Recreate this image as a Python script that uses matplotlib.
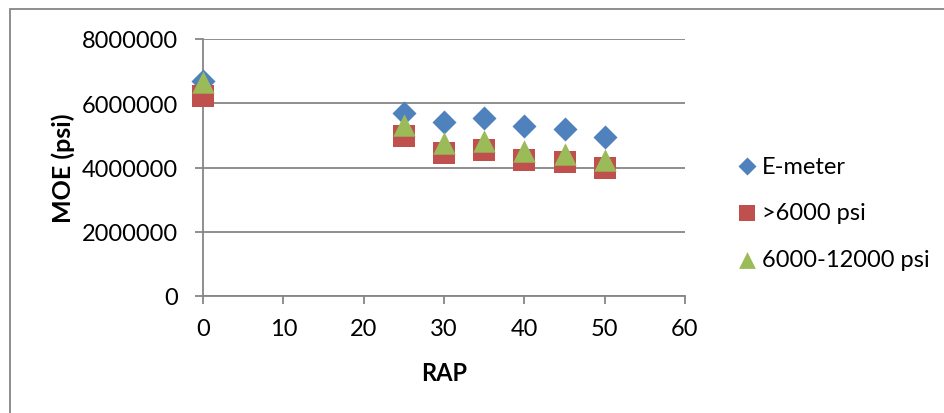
import matplotlib
matplotlib.use("Agg")
import matplotlib.pyplot as plt
from matplotlib.patches import Rectangle

plt.rcParams['font.family'] = ['Lato', 'DejaVu Sans']

rap = [0, 25, 30, 35, 40, 45, 50]
emeter = [6700000, 5690000, 5410000, 5550000, 5300000, 5200000, 4940000]
gt6000 = [6240000, 4980000, 4450000, 4530000, 4220000, 4160000, 3980000]
r6000_12000 = [6650000, 5320000, 4760000, 4840000, 4500000, 4430000, 4240000]
series_labels = ["E-meter", ">6000 psi", "6000-12000 psi"]
xticks = [0, 10, 20, 30, 40, 50, 60]
yticks = [0, 2000000, 4000000, 6000000, 8000000]

W, H = 944, 414
fig = plt.figure(figsize=(W / 100, H / 100), dpi=100)
fig.patches.append(Rectangle((10 / W, -0.1), 1.2, (H - 10) / H + 0.1,
                             transform=fig.transFigure, fill=False,
                             edgecolor='#868686', linewidth=1.3))

ax = fig.add_axes([203 / W, 1 - 297 / H, (685 - 203) / W, (297 - 40) / H])
grid_c = '#868686'
ax.scatter(rap, emeter, marker='D', s=150, color='#4F81BD', label=series_labels[0],
           zorder=3, linewidths=0, clip_on=False)
ax.scatter(rap, gt6000, marker='s', s=260, color='#C0504D', label=series_labels[1],
           zorder=4, linewidths=0, clip_on=False)
ax.scatter(rap, r6000_12000, marker='^', s=260, color='#9BBB59', label=series_labels[2],
           zorder=5, linewidths=0, clip_on=False)

ax.set_xlim(0, 60)
ax.set_ylim(0, 8000000)
ax.set_xticks(xticks)
ax.set_yticks(yticks)
ax.set_yticklabels([str(v) for v in yticks])
ax.tick_params(axis='both', labelsize=17, colors=grid_c, labelcolor='black', length=6, width=1.3)
ax.tick_params(axis='x', pad=10)
ax.tick_params(axis='y', pad=12)
ax.grid(axis='y', color=grid_c, linewidth=1.3)
ax.set_axisbelow(True)
for s in ['top', 'right']:
    ax.spines[s].set_visible(False)
for s in ['left', 'bottom']:
    ax.spines[s].set_color(grid_c)
    ax.spines[s].set_linewidth(1.3)
ax.set_xlabel('RAP', fontsize=17, fontweight='bold', labelpad=16)
ax.set_ylabel('MOE (psi)', fontsize=18, fontweight='bold', labelpad=5)

fig.legend(loc='center left', bbox_to_anchor=(736 / W, 1 - 214 / H), frameon=False,
           fontsize=17, labelspacing=1.1, handletextpad=0.2, handlelength=0.9,
           borderaxespad=0, borderpad=0, markerscale=0.75, scatterpoints=1)

fig.savefig('out.png', dpi=100)
